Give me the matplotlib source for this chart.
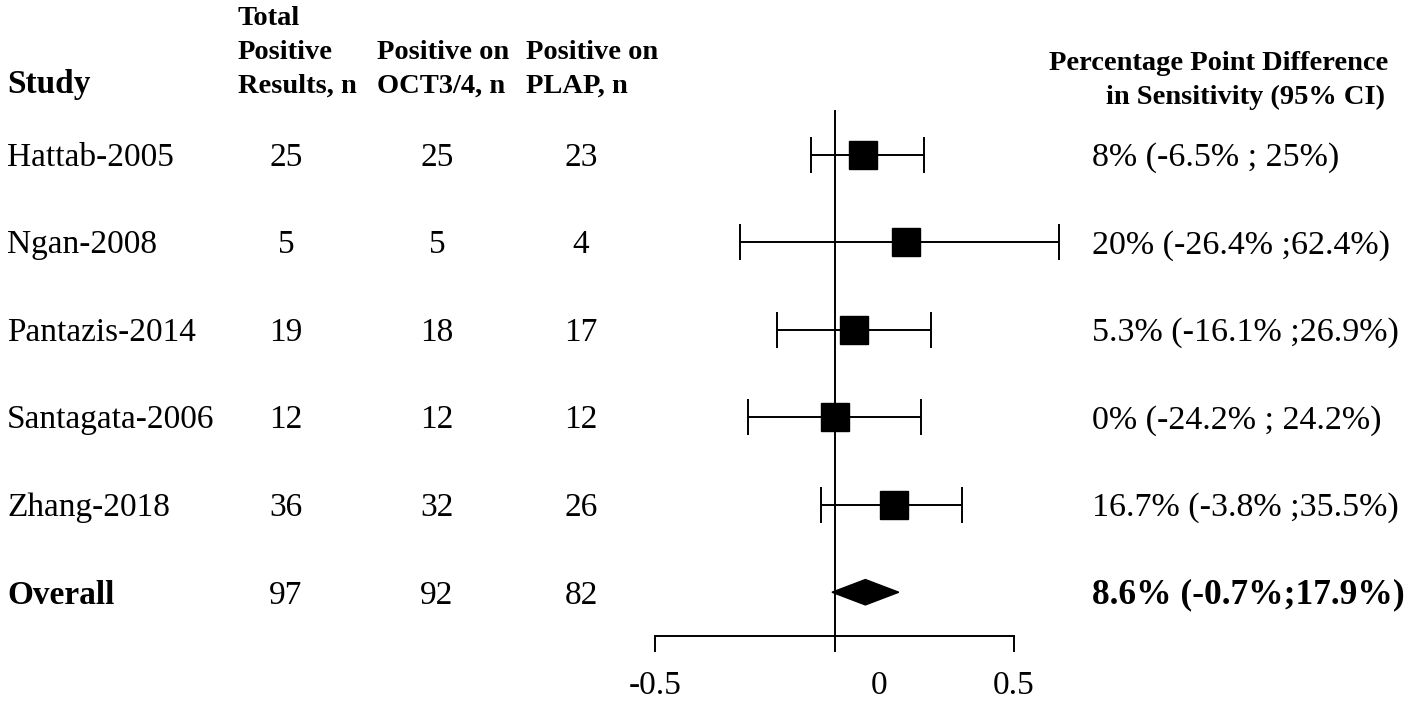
import numpy as np
import matplotlib as mpl
import matplotlib.pyplot as plt
from matplotlib.transforms import blended_transform_factory

# -------------------- Data --------------------
studies   = ["Hattab-2005", "Ngan-2008", "Pantazis-2014", "Santagata-2006", "Zhang-2018"]
total_pos = [25, 5, 19, 12, 36]
oct_pos   = [25, 5, 18, 12, 32]
plap_pos  = [23, 4, 17, 12, 26]
diff      = [0.08, 0.20, 0.053, 0.0, 0.167]
ci_low    = [-0.065, -0.264, -0.161, -0.242, -0.038]
ci_high   = [0.25, 0.624, 0.269, 0.242, 0.355]
ci_text   = ["8% (-6.5% ; 25%)", "20% (-26.4% ;62.4%)", "5.3% (-16.1% ;26.9%)",
             "0% (-24.2% ; 24.2%)", "16.7% (-3.8% ;35.5%)"]

overall_label = "Overall"
overall_n     = [97, 92, 82]
overall_diff  = 0.086
overall_low   = -0.007
overall_high  = 0.179
overall_text  = "8.6% (-0.7%;17.9%)"

x_ticks = [-0.5, 0, 0.5]
x_tick_labels = ["-0.5", "", "0.5"]

# -------------------- Styling --------------------
mpl.rcParams["font.family"] = "Liberation Serif"
W, H = 1418, 701
ROW_FS = 24
CI_FS = 24.5
HEAD_FS = 20.5
LW = 1.4
TXT_DY = -0.035   # small nudge so row text sits on the marker line

fig = plt.figure(figsize=(W / 100, H / 100), dpi=100)

# forest panel, placed in pixel terms
ax_left, ax_right = 655, 1014
ax_top, ax_bottom = 110.75, 636
ax = fig.add_axes([ax_left / W, 1 - ax_bottom / H,
                   (ax_right - ax_left) / W, (ax_bottom - ax_top) / H])
ax.set_xlim(-0.5, 0.5)
ax.set_ylim(-5.5, 0.5)

rows = -np.arange(len(studies))
overall_y = -len(studies)

ax.plot([0, 0], [0.5, -5.5], color="black", lw=LW, clip_on=False, zorder=1)
ax.errorbar(diff, rows, xerr=[np.array(diff) - np.array(ci_low), np.array(ci_high) - np.array(diff)],
            fmt="s", color="black", ms=20, ecolor="black", elinewidth=LW,
            capsize=13, capthick=LW, clip_on=False, zorder=3)

dh = 0.145
ax.fill([overall_low, overall_diff, overall_high, overall_diff],
        [overall_y, overall_y + dh, overall_y, overall_y - dh],
        color="black", clip_on=False, zorder=3)

for s in ["top", "left", "right"]:
    ax.spines[s].set_visible(False)
ax.spines["bottom"].set_linewidth(LW)
ax.set_yticks([])
ax.set_xticks(x_ticks)
ax.set_xticklabels(x_tick_labels)
ax.set_xticks([0.125], minor=True)
ax.set_xticklabels(["0"], minor=True)
ax.tick_params(axis="x", which="major", direction="out", length=11.5, width=LW,
               labelsize=ROW_FS, pad=13)
ax.tick_params(axis="x", which="minor", length=0, labelsize=ROW_FS, pad=24.5)

# -------------------- Table text --------------------
tr = blended_transform_factory(fig.transFigure, ax.transData)
col_x = {"study": 7, "total": 286, "oct": 437, "plap": 581, "ci": 1092}

def fx(px):
    return px / W

def fy(py):
    return 1 - py / H

for y, name, t, o, p, c in zip(rows, studies, total_pos, oct_pos, plap_pos, ci_text):
    yy = y + TXT_DY
    ax.text(fx(col_x["study"]), yy, name, transform=tr, fontsize=ROW_FS, va="center", ha="left")
    ax.text(fx(col_x["total"]), yy, str(t), transform=tr, fontsize=ROW_FS, va="center", ha="center")
    ax.text(fx(col_x["oct"]), yy, str(o), transform=tr, fontsize=ROW_FS, va="center", ha="center")
    ax.text(fx(col_x["plap"]), yy, str(p), transform=tr, fontsize=ROW_FS, va="center", ha="center")
    ax.text(fx(col_x["ci"]), yy, c, transform=tr, fontsize=CI_FS, va="center", ha="left")

yy = overall_y + TXT_DY
ax.text(fx(col_x["study"]), yy, overall_label, transform=tr, fontsize=ROW_FS,
        fontweight="bold", va="center", ha="left")
for key, val in zip(["total", "oct", "plap"], overall_n):
    ax.text(fx(col_x[key]), yy, str(val), transform=tr, fontsize=ROW_FS,
            va="center", ha="center")
ax.text(fx(col_x["ci"]), yy, overall_text, transform=tr, fontsize=25.5,
        fontweight="bold", va="center", ha="left")

# -------------------- Headers --------------------
fig.text(fx(7), fy(93), "Study", fontsize=24, fontweight="bold", va="baseline", ha="left")
fig.text(fx(238), fy(25), "Total", fontsize=HEAD_FS, fontweight="bold", va="baseline")
fig.text(fx(238), fy(59), "Positive", fontsize=HEAD_FS, fontweight="bold", va="baseline")
fig.text(fx(238), fy(93), "Results, n", fontsize=HEAD_FS, fontweight="bold", va="baseline")
fig.text(fx(377), fy(59), "Positive on", fontsize=HEAD_FS, fontweight="bold", va="baseline")
fig.text(fx(377), fy(93), "OCT3/4, n", fontsize=HEAD_FS, fontweight="bold", va="baseline")
fig.text(fx(526), fy(59), "Positive on", fontsize=HEAD_FS, fontweight="bold", va="baseline")
fig.text(fx(526), fy(93), "PLAP, n", fontsize=HEAD_FS, fontweight="bold", va="baseline")
fig.text(fx(1388), fy(70), "Percentage Point Difference", fontsize=HEAD_FS,
         fontweight="bold", va="baseline", ha="right")
fig.text(fx(1385), fy(104), "in Sensitivity (95% CI)", fontsize=HEAD_FS,
         fontweight="bold", va="baseline", ha="right")

fig.savefig("out.png", dpi=100)
